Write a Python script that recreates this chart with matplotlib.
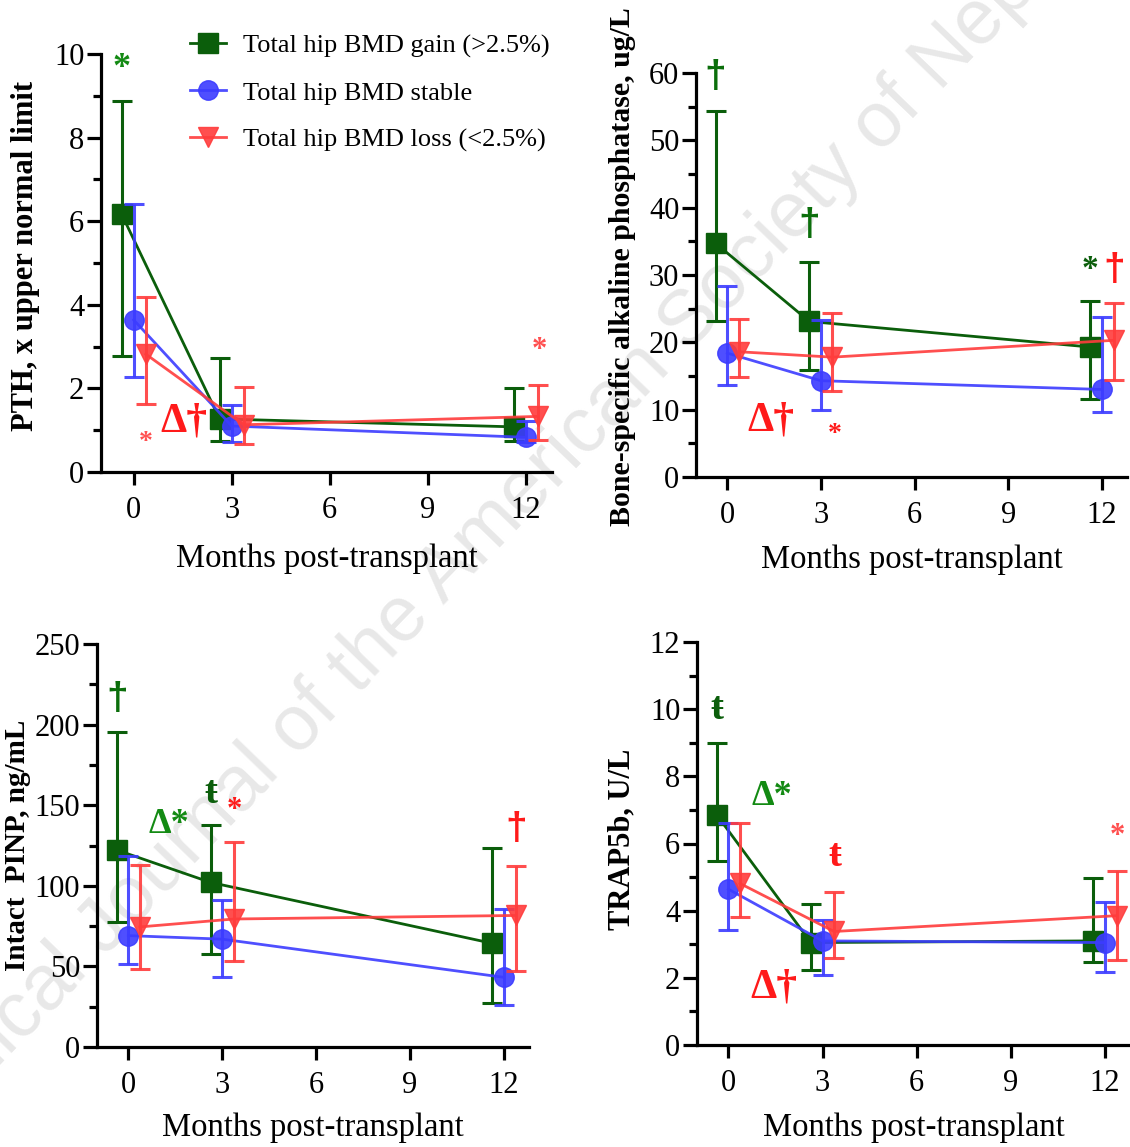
import numpy as np
import matplotlib
matplotlib.use('Agg')
from matplotlib import pyplot as plt
from matplotlib.ticker import MultipleLocator

plt.rcParams['font.family'] = ['Liberation Serif', 'DejaVu Serif']

months = [0, 3, 12]
groups = ['Total hip BMD gain (>2.5%)', 'Total hip BMD stable', 'Total hip BMD loss (<2.5%)']

# PTH, x upper normal limit
pth_gain = [6.17, 1.27, 1.08]
pth_gain_lo = [2.78, 0.74, 0.74]
pth_gain_hi = [8.88, 2.72, 2.00]
pth_stable = [3.64, 1.10, 0.83]
pth_stable_lo = [2.27, 0.71, 0.72]
pth_stable_hi = [6.40, 1.61, 1.22]
pth_loss = [2.82, 1.13, 1.33]
pth_loss_lo = [1.63, 0.66, 0.77]
pth_loss_hi = [4.19, 2.03, 2.09]

# bone-specific alkaline phosphatase, ug/L
balp_gain = [34.7, 23.1, 19.3]
balp_gain_lo = [23.1, 15.9, 11.6]
balp_gain_hi = [54.4, 32.0, 26.2]
balp_stable = [18.4, 14.3, 13.0]
balp_stable_lo = [13.6, 9.9, 9.7]
balp_stable_hi = [28.4, 23.3, 23.8]
balp_loss = [18.6, 17.8, 20.3]
balp_loss_lo = [14.9, 12.7, 14.4]
balp_loss_hi = [23.4, 24.4, 25.8]

# intact PINP, ng/mL
pinp_gain = [122.2, 102.1, 64.3]
pinp_gain_lo = [77.7, 57.4, 27.6]
pinp_gain_hi = [195.4, 137.7, 123.3]
pinp_stable = [69.1, 66.9, 43.2]
pinp_stable_lo = [51.4, 43.2, 26.1]
pinp_stable_hi = [118.7, 91.3, 85.5]
pinp_loss = [74.5, 79.4, 81.6]
pinp_loss_lo = [48.1, 53.5, 47.1]
pinp_loss_hi = [112.9, 126.9, 112.5]

# TRAP5b, U/L
trap_gain = [6.85, 3.05, 3.10]
trap_gain_lo = [5.48, 2.24, 2.48]
trap_gain_hi = [8.98, 4.19, 4.96]
trap_stable = [4.64, 3.10, 3.05]
trap_stable_lo = [3.41, 2.07, 2.17]
trap_stable_hi = [6.60, 3.71, 4.27]
trap_loss = [4.81, 3.38, 3.85]
trap_loss_lo = [3.80, 2.59, 2.53]
trap_loss_hi = [6.60, 4.57, 5.19]

GREEN = '#0b5e0b'
BLUE = '#3c3cff'
RED = '#ff3c3c'
DGREEN = '#0b6e0b'
TGREEN = '#138a13'
TRED = '#ff1a1a'
LRED = '#ff5050'
colors = [GREEN, BLUE, RED]
markers = ['s', 'o', 'v']
shift = [-0.37, 0.0, 0.37]

fig = plt.figure(figsize=(11.3, 11.47), dpi=100)
W, H = 1130., 1147.

def px_axes(l, t, r, b):
    return fig.add_axes([l / W, 1 - b / H, (r - l) / W, (b - t) / H])

# faint diagonal watermark behind the panels
fig.text(0.488, 0.594, 'Clinical Journal of the American Society of Nephrology',
         rotation=46, ha='center', va='center', fontsize=56,
         family='Liberation Sans', color='#e8e8e8', zorder=-1)

def panel(ax, series, ymax, ymaj, ymin, ylabel, ylab_x, ylab_y, xlab_y, notes,
          ylab_size=22):
    conts = []
    for k, (m, lo, hi) in enumerate(series):
        m = np.array(m); lo = np.array(lo); hi = np.array(hi)
        x = np.array(months) + shift[k]
        c = ax.errorbar(x, m, yerr=[m - lo, hi - m], color=colors[k],
                        marker=markers[k], markersize=14, lw=2.0,
                        elinewidth=2.2, capsize=7, capthick=2.2,
                        alpha=1.0 if k == 0 else 0.9,
                        clip_on=False, zorder=3 + k)
        conts.append(c)
    ax.set_xlim(-1, 12.8)
    ax.set_ylim(0, ymax)
    ax.set_xticks([0, 3, 6, 9, 12])
    ax.yaxis.set_major_locator(MultipleLocator(ymaj))
    ax.yaxis.set_minor_locator(MultipleLocator(ymin))
    ax.patch.set_alpha(0)
    for s in ['top', 'right']:
        ax.spines[s].set_visible(False)
    for s in ['left', 'bottom']:
        ax.spines[s].set_linewidth(2.3)
    ax.tick_params(axis='x', which='major', length=9, width=2.3, pad=8, labelsize=22)
    ax.tick_params(axis='y', which='major', length=10, width=2.3, pad=2, labelsize=22)
    ax.tick_params(axis='y', which='minor', length=5.5, width=2.3)
    ax.set_ylabel(ylabel, fontsize=ylab_size, fontweight='bold')
    ax.yaxis.set_label_coords(ylab_x, ylab_y)
    ax.set_xlabel('Months post-transplant', fontsize=23.5)
    ax.xaxis.set_label_coords(0.5, xlab_y)
    for (nx, ny, txt, col, fs) in notes:
        fam = 'Liberation Sans' if txt == '†' else None
        ax.text(nx, ny, txt, color=col, fontsize=fs, fontweight='bold',
                family=fam, ha='center', va='center', clip_on=False)
    return conts

ax1 = px_axes(101, 54, 552, 472)
c1 = panel(ax1, [(pth_gain, pth_gain_lo, pth_gain_hi),
                 (pth_stable, pth_stable_lo, pth_stable_hi),
                 (pth_loss, pth_loss_lo, pth_loss_hi)],
           10, 2, 1, 'PTH, x upper normal limit', -0.135, 0.517, -0.172,
           [(-0.37, 9.65, '*', TGREEN, 26),
            (0.38, 0.7, '*', LRED, 20),
            (1.55, 1.2, 'Δ†', TRED, 30),
            (12.4, 2.9, '*', LRED, 22)])
ax1.legend(handles=[c[0] for c in c1], labels=groups, loc='upper left',
           frameon=False, bbox_to_anchor=(190 / W, 1 - 34 / H),
           bbox_transform=fig.transFigure, fontsize=19, handlelength=1.36,
           handletextpad=0.64, labelspacing=0.88, borderpad=0, borderaxespad=0)

ax2 = px_axes(696, 73, 1127, 477)
panel(ax2, [(balp_gain, balp_gain_lo, balp_gain_hi),
            (balp_stable, balp_stable_lo, balp_stable_hi),
            (balp_loss, balp_loss_lo, balp_loss_hi)],
      60, 10, 5, 'Bone-specific alkaline phosphatase, ug/L', -0.139, 0.52, -0.168,
      [(-0.37, 59.4, '†', DGREEN, 28),
       (2.63, 37.5, '†', DGREEN, 28),
       (11.6, 30.8, '*', GREEN, 24),
       (12.4, 30.7, '†', TRED, 28),
       (1.4, 8.4, 'Δ†', TRED, 30),
       (3.45, 6.3, '*', TRED, 20)], ylab_size=21.5)

ax3 = px_axes(97, 644, 529, 1047)
panel(ax3, [(pinp_gain, pinp_gain_lo, pinp_gain_hi),
            (pinp_stable, pinp_stable_lo, pinp_stable_hi),
            (pinp_loss, pinp_loss_lo, pinp_loss_hi)],
      250, 50, 25, 'Intact  PINP, ng/mL', -0.152, 0.5, -0.163,
      [(-0.37, 216, '†', DGREEN, 28),
       (1.3, 138, 'Δ*', TGREEN, 26),
       (2.63, 157, 'ŧ', GREEN, 28),
       (3.38, 147, '*', TRED, 22),
       (12.4, 135, '†', TRED, 28)], ylab_size=21)

ax4 = px_axes(697, 642, 1130, 1045)
panel(ax4, [(trap_gain, trap_gain_lo, trap_gain_hi),
            (trap_stable, trap_stable_lo, trap_stable_hi),
            (trap_loss, trap_loss_lo, trap_loss_hi)],
      12, 2, 1, 'TRAP5b, U/L', -0.141, 0.51, -0.168,
      [(-0.37, 10.0, 'ŧ', GREEN, 28),
       (1.4, 7.4, 'Δ*', TGREEN, 26),
       (3.38, 5.6, 'ŧ', TRED, 28),
       (1.45, 1.7, 'Δ†', TRED, 30),
       (12.4, 6.2, '*', LRED, 22)])

fig.savefig('out.png', dpi=100)
